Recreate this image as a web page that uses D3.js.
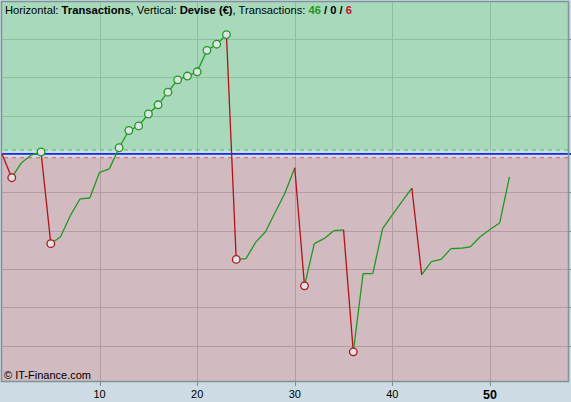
<!DOCTYPE html>
<html>
<head>
<meta charset="utf-8">
<script src="https://cdn.jsdelivr.net/npm/d3@7"></script>
<style>
  html, body { margin: 0; padding: 0; background: #cddce4; }
  svg { display: block; }
  text { font-family: "Liberation Sans", Arial, sans-serif; }
</style>
</head>
<body>
<svg id="chart" width="571" height="402"></svg>
<script>
// Equity curve per transaction (value after each transaction, Devise €)
const transactions = d3.range(0, 53);
const equity = [0, -62, -23, -3, 5, -234, -216, -161, -117, -115, -48, -39, 16, 61, 73, 104, 128, 161, 193, 203, 214, 270, 286, 311,
  -275, -273, -230, -203, -152, -102, -36, -344, -234, -221, -200, -198, -516, -312, -312, -195, -159, -124, -89,
  -315, -281, -275, -247, -246, -242, -216, -197, -180, -60];
const xTicks = [10, 20, 30, 40, 50];
const yGrid = [300, 200, 100, 0, -100, -200, -300, -400, -500];
const wins = 46, neutral = 0, losses = 6;
const xDomain = [0, 58];
const yDomain = [-592, 396];
const band = [10, -10];

const svg = d3.select("#chart");
const L = 2, R = 568, T = 2, B = 381;
const x = d3.scaleLinear().domain(xDomain).range([L, R]);
const y = d3.scaleLinear().domain(yDomain).range([B, T]);

// Background regions
svg.append("rect").attr("x", L).attr("y", T).attr("width", R - L).attr("height", y(band[0]) - T).attr("fill", "#a8d9bb");
svg.append("rect").attr("x", L).attr("y", y(band[0])).attr("width", R - L).attr("height", y(band[1]) - y(band[0])).attr("fill", "#cedde5");
svg.append("rect").attr("x", L).attr("y", y(band[1])).attr("width", R - L).attr("height", B - y(band[1])).attr("fill", "#d1bbc0");

// Horizontal grid
yGrid.filter(v => v !== 0).forEach(v => {
  svg.append("line").attr("x1", L).attr("x2", R).attr("y1", Math.round(y(v)) + 0.5).attr("y2", Math.round(y(v)) + 0.5)
    .attr("stroke", v > 0 ? "#8fbf9f" : "#b49ca2").attr("stroke-width", 1);
});
// right-side tick marks
yGrid.forEach(v => {
  svg.append("line").attr("x1", R + 1).attr("x2", R + 3).attr("y1", Math.round(y(v)) + 0.5).attr("y2", Math.round(y(v)) + 0.5)
    .attr("stroke", "#7d8d95").attr("stroke-width", 1);
});
// Vertical grid
xTicks.forEach(t => {
  const px = Math.round(x(t)) + 0.5;
  svg.append("line").attr("x1", px).attr("x2", px).attr("y1", T).attr("y2", y(band[0]))
    .attr("stroke", "#8fbf9f");
  svg.append("line").attr("x1", px).attr("x2", px).attr("y1", y(band[0])).attr("y2", y(band[1]))
    .attr("stroke", "#b8c8d0");
  svg.append("line").attr("x1", px).attr("x2", px).attr("y1", y(band[1])).attr("y2", B)
    .attr("stroke", "#b49ca2");
});

// Band lines
svg.append("line").attr("x1", L + 2).attr("x2", R).attr("y1", y(band[0])).attr("y2", y(band[0]))
  .attr("stroke", "#3fcf3f").attr("stroke-width", 1).attr("stroke-dasharray", "4,4");
svg.append("line").attr("x1", L + 2).attr("x2", R).attr("y1", y(band[1])).attr("y2", y(band[1]))
  .attr("stroke", "#e55a5a").attr("stroke-width", 1).attr("stroke-dasharray", "4,4");
svg.append("line").attr("x1", L).attr("x2", R + 3).attr("y1", y(0)).attr("y2", y(0))
  .attr("stroke", "#1428e6").attr("stroke-width", 1.6);

// Frame
svg.append("rect").attr("x", L - 0.5).attr("y", T - 0.5).attr("width", R - L + 1).attr("height", B - T + 1)
  .attr("fill", "none").attr("stroke", "#7e9496").attr("stroke-width", 1.5);

// X axis
const xAxis = svg.append("g");
xTicks.forEach(t => {
  const px = Math.round(x(t)) + 0.5;
  xAxis.append("line").attr("x1", px).attr("x2", px).attr("y1", B + 1).attr("y2", B + 5).attr("stroke", "#7d8d95");
  xAxis.append("text").attr("x", x(t)).attr("y", t === 50 ? 399 : 398).attr("text-anchor", "middle")
    .attr("font-size", t === 50 ? "12.5px" : "11px").attr("font-weight", t === 50 ? "bold" : "normal")
    .attr("fill", "#000").text(t);
});

// Equity segments
const pts = transactions.map((t, i) => ({ t, v: equity[i] }));
for (let i = 1; i < pts.length; i++) {
  const a = pts[i - 1], b = pts[i];
  svg.append("line").attr("x1", x(a.t)).attr("y1", y(a.v)).attr("x2", x(b.t)).attr("y2", y(b.v))
    .attr("stroke", b.v < a.v ? "#b01418" : "#1f9a1f").attr("stroke-width", 1.3);
}
// New highs / new lows markers
let hi = equity[0], lo = equity[0];
pts.forEach((p, i) => {
  if (i === 0) return;
  let col = null;
  if (p.v > hi) { hi = p.v; col = "#1f9a1f"; }
  if (p.v < lo) { lo = p.v; col = "#b01418"; }
  if (col) {
    svg.append("circle").attr("cx", x(p.t)).attr("cy", y(p.v)).attr("r", 3.8)
      .attr("fill", "#dfe3e8").attr("stroke", col).attr("stroke-width", 1.3);
  }
});

// Title
const title = svg.append("text").attr("x", 5).attr("y", 14).attr("font-size", "11.2px").attr("fill", "#000");
title.append("tspan").text("Horizontal: ");
title.append("tspan").attr("font-weight", "bold").text("Transactions");
title.append("tspan").text(", Vertical: ");
title.append("tspan").attr("font-weight", "bold").text("Devise (€)");
title.append("tspan").text(", Transactions: ");
title.append("tspan").attr("font-weight", "bold").attr("fill", "#1f9a1f").text(wins);
title.append("tspan").attr("font-weight", "bold").text(" / " + neutral + " / ");
title.append("tspan").attr("font-weight", "bold").attr("fill", "#c8102e").text(losses);

// Footer
svg.append("text").attr("x", 4).attr("y", 379).attr("font-size", "11px").attr("fill", "#000").text("© IT-Finance.com");
</script>
</body>
</html>
